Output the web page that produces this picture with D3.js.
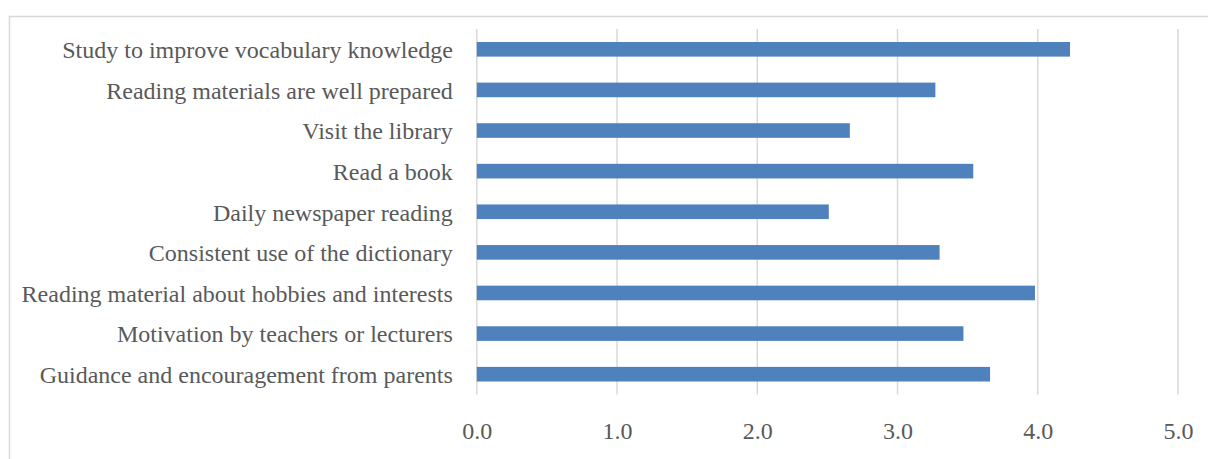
<!DOCTYPE html>
<html>
<head>
<meta charset="utf-8">
<script src="https://cdn.jsdelivr.net/npm/d3@7"></script>
<style>
	body { margin: 0; background: #fff; }
</style>
</head>
<body>
<svg id="chart_svg" width="1208" height="459"></svg>
<script>
// chart data, top bar first
var categories = [
	"Study to improve vocabulary knowledge",
	"Reading materials are well prepared",
	"Visit the library",
	"Read a book",
	"Daily newspaper reading",
	"Consistent use of the dictionary",
	"Reading material about hobbies and interests",
	"Motivation by teachers or lecturers",
	"Guidance and encouragement from parents"
];
var values = [4.23, 3.27, 2.66, 3.54, 2.51, 3.30, 3.98, 3.47, 3.66];
var tick_values = [0, 1, 2, 3, 4, 5];

var font = "'Liberation Serif', 'Times New Roman', serif";
var svg = d3.select("#chart_svg");

// outer frame (runs off the right and bottom of the picture)
svg.append("rect")
	.attr("x", 9.5)
	.attr("y", 16.5)
	.attr("width", 1240)
	.attr("height", 480)
	.attr("fill", "none")
	.attr("stroke", "#d9d9d9")
	.attr("stroke-width", 1.5);

var x = d3.scaleLinear()
	.domain([0, 5])
	.range([476.8, 1178]);

var y = d3.scaleBand()
	.domain(categories)
	.range([29, 394.5])
	.paddingInner(0.64)
	.paddingOuter(0.32);

// vertical gridlines
svg.append("g")
	.selectAll("line")
	.data(tick_values)
	.enter().append("line")
	.attr("x1", function(d) { return x(d); })
	.attr("x2", function(d) { return x(d); })
	.attr("y1", 29)
	.attr("y2", 394.5)
	.attr("stroke", "#d9d9d9")
	.attr("stroke-width", 1.5);

// bars
svg.append("g")
	.selectAll("rect")
	.data(values)
	.enter().append("rect")
	.attr("x", x(0))
	.attr("y", function(d, i) { return y(categories[i]); })
	.attr("width", function(d) { return x(d) - x(0); })
	.attr("height", y.bandwidth())
	.attr("fill", "#4f81bd");

// category labels
var yAxis = d3.axisLeft(y).tickSize(0).tickPadding(24);
var gy = svg.append("g")
	.attr("transform", "translate(" + x(0) + ",0)")
	.call(yAxis);
gy.select(".domain").remove();
gy.attr("font-family", font);
gy.selectAll("text")
	.style("font-family", font)
	.style("font-size", "24px")
	.style("fill", "#595959")
	.attr("dy", "0.37em");

// value axis labels
var xAxis = d3.axisBottom(x)
	.tickValues(tick_values)
	.tickFormat(d3.format(".1f"))
	.tickSize(0)
	.tickPadding(0);
var gx = svg.append("g")
	.attr("transform", "translate(0,422)")
	.call(xAxis);
gx.select(".domain").remove();
gx.attr("font-family", font);
gx.selectAll("text")
	.style("font-family", font)
	.style("font-size", "24px")
	.style("fill", "#595959");
</script>
</body>
</html>
